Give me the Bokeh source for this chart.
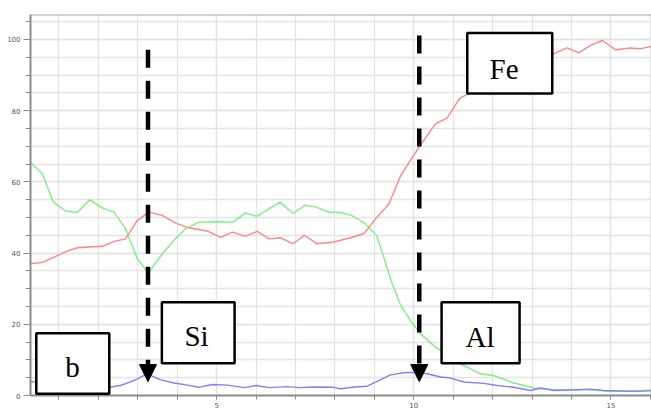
from bokeh.plotting import figure
from bokeh.models import (Range1d, FixedTicker, BoxAnnotation, Label, Arrow,
                          NormalHead, Span)
from bokeh.embed import file_html
from bokeh.resources import INLINE

# ---- data ----
fe_x = [0.28, 0.58, 0.87, 1.17, 1.47, 1.76, 2.1, 2.4, 2.69, 2.99, 3.28, 3.62,
        3.96, 4.3, 4.76, 5.1, 5.4, 5.73, 6.03, 6.33, 6.62, 6.94, 7.23, 7.55,
        7.97, 8.4, 8.74, 9.03, 9.37, 9.67, 10.13, 10.55, 10.85, 11.17, 11.36,
        11.8, 12.3, 12.8, 13.2, 13.51, 13.89, 14.19, 14.48, 14.78, 15.12,
        15.5, 15.75, 16.03]
fe_y = [37.0, 37.4, 38.8, 40.4, 41.5, 41.7, 41.9, 43.3, 44.0, 49.2, 51.5, 50.6,
        48.4, 47.1, 46.2, 44.4, 45.9, 44.7, 46.1, 44.0, 44.3, 42.6, 45.0, 42.6,
        43.1, 44.3, 45.5, 49.6, 53.8, 61.8, 69.7, 76.3, 78.0, 83.5, 84.6,
        87.5, 90.5, 93.0, 94.5, 95.8, 97.6, 96.2, 98.3, 99.7, 97.1,
        97.6, 97.4, 98.0]

si_x = [0.28, 0.58, 0.86, 1.17, 1.47, 1.78, 2.1, 2.4, 2.69, 2.99, 3.27, 3.62,
        3.96, 4.21, 4.55, 5.0, 5.42, 5.73, 6.02, 6.61, 6.94, 7.24, 7.53, 7.87,
        8.1, 8.4, 8.74, 9.06, 9.25, 9.44, 9.67, 9.92, 10.17, 10.51, 10.85,
        11.19, 11.69, 12.03, 12.54, 13.05, 13.55, 14.4, 15.0, 15.67, 16.03]
si_y = [65.5, 62.3, 54.3, 51.8, 51.4, 55.0, 52.7, 51.5, 46.8, 38.4, 34.4, 39.8,
        44.0, 46.8, 48.7, 48.8, 48.7, 51.3, 50.3, 54.3, 51.1, 53.4, 52.9, 51.4,
        51.5, 50.7, 48.5, 44.9, 38.5, 31.8, 25.3, 21.0, 17.3, 14.0, 11.2,
        8.9, 6.1, 5.6, 3.5, 2.1, 1.6, 1.6, 1.2, 1.2, 1.6]

al_x = [0.28, 0.8, 1.3, 1.8, 2.27, 2.56, 2.9, 3.24, 3.58, 3.92, 4.26, 4.55,
        4.88, 5.27, 5.71, 6.0, 6.33, 6.79, 7.1, 7.5, 7.97, 8.14, 8.5, 8.82,
        9.07, 9.41, 9.75, 10.0, 10.34, 10.68, 10.93, 11.27, 11.78, 12.12,
        12.54, 12.96, 13.22, 13.55, 14.14, 14.48, 14.82, 15.5, 16.03]
al_y = [3.9, 3.6, 3.2, 2.8, 2.3, 2.8, 4.2, 6.1, 4.4, 3.5, 2.9, 2.3,
        3.1, 2.9, 2.2, 2.8, 2.2, 2.5, 2.2, 2.4, 2.3, 1.9, 2.4, 2.6,
        4.0, 5.8, 6.4, 6.5, 6.1, 5.2, 4.9, 3.8, 3.4, 2.8,
        2.3, 1.4, 2.1, 1.4, 1.6, 1.8, 1.4, 1.2, 1.3]

x_major = [5, 10, 15]
x_minor = list(range(0, 17))
y_major = [0, 20, 40, 60, 80, 100]
y_minor = list(range(0, 110, 5))
x_title = "Distance / um"

# annotation boxes: (text, left, right, bottom, top, text_x, text_baseline_y)
boxes = [
    ("Fe", 11.357, 13.513, 84.8, 101.8, 12.29, 91.7),
    ("Si", 3.612, 5.456, 9.07, 26.2, 4.49, 16.65),
    ("b", 0.427, 2.278, 0.48, 17.5, 1.347, 7.95),
    ("Al", 10.706, 12.684, 9.07, 26.2, 11.68, 16.4),
]
# arrows: (x, y_top, y_tip)
arrows = [(3.26, 97.1, 3.9), (10.14, 101.1, 3.9)]

p = figure(width=651, height=417, output_backend="svg", toolbar_location=None,
           x_range=Range1d(0.28, 16.03), y_range=Range1d(0, 107),
           min_border_left=30, min_border_top=14, min_border_right=0,
           min_border_bottom=22)
p.outline_line_color = None
p.background_fill_color = "white"
p.border_fill_color = "white"

grid_col = "#e4e4e4"
p.xaxis.ticker = FixedTicker(ticks=x_major, minor_ticks=x_minor)
p.yaxis.ticker = FixedTicker(ticks=y_major, minor_ticks=y_minor)
p.xgrid.ticker = FixedTicker(ticks=x_major, minor_ticks=x_minor)
p.ygrid.ticker = FixedTicker(ticks=y_major, minor_ticks=y_minor)
for g in (p.xgrid, p.ygrid):
    g.grid_line_color = grid_col
    g.minor_grid_line_color = grid_col
    g.grid_line_width = 1.3
    g.minor_grid_line_width = 1.3

for ax in (p.xaxis, p.yaxis):
    ax.axis_line_color = "#8c8c8c"
    ax.axis_line_width = 2
    ax.major_tick_line_color = "#8c8c8c"
    ax.minor_tick_line_color = "#8c8c8c"
    ax.major_label_text_font = "DejaVu Sans"
    ax.major_label_text_font_size = "7px"
    ax.major_label_text_color = "#555555"
p.xaxis.major_tick_out = 4
p.xaxis.minor_tick_out = 4
p.xaxis.major_tick_in = 0
p.xaxis.minor_tick_in = 0
p.xaxis.major_label_standoff = 2
p.yaxis.major_tick_out = 7
p.yaxis.minor_tick_out = 5
p.yaxis.major_tick_in = 0
p.yaxis.minor_tick_in = 0
p.yaxis.major_label_standoff = 3

p.add_layout(Span(location=107, dimension="width", line_color="#a8a8a8",
                  line_width=2))

p.line(si_x, si_y, line_color="#7ef07e", line_width=1.4)
p.line(al_x, al_y, line_color="#8080ff", line_width=1.4)
p.line(fe_x, fe_y, line_color="#ff8585", line_width=1.4)

for (x, y0, y1) in arrows:
    p.add_layout(Arrow(end=NormalHead(size=17, fill_color="black",
                                      line_color="black", line_width=1),
                       x_start=x, y_start=y0, x_end=x, y_end=y1,
                       line_color="black", line_width=4.5, line_dash="18 13"))

for (t, l, r, b, tp, tx, ty) in boxes:
    p.add_layout(BoxAnnotation(left=l, right=r, bottom=b, top=tp,
                               fill_color="white", fill_alpha=1.0,
                               line_color="black", line_width=2.5,
                               line_alpha=1.0))
    p.add_layout(Label(x=tx, y=ty, text=t, text_font="Liberation Serif",
                       text_font_size="29px", text_align="center",
                       text_baseline="alphabetic", text_color="black"))

p.add_layout(Label(x=9.2, y=-3.9, text=x_title,
                   text_font="DejaVu Sans", text_font_size="7px",
                   text_color="#555555", text_align="center",
                   text_baseline="top"))

open("out.html", "w").write(file_html(p, INLINE))
